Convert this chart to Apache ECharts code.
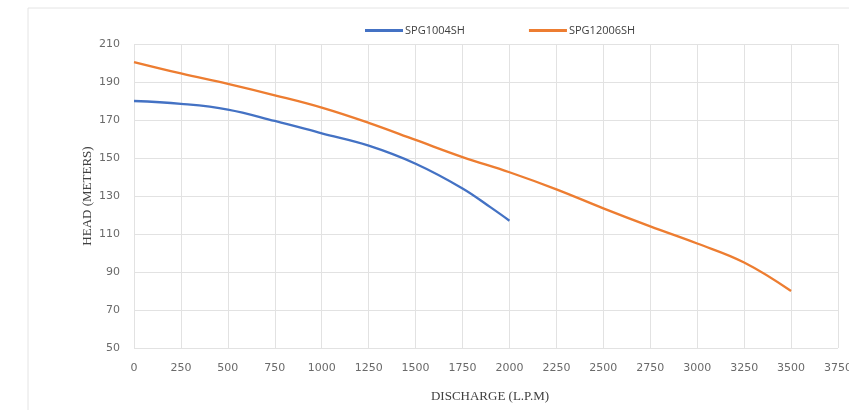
<!DOCTYPE html>
<html>
<head>
<meta charset="utf-8">
<script src="https://cdn.jsdelivr.net/npm/echarts@6/dist/echarts.min.js"></script>
<style>
  html, body { margin: 0; padding: 0; background: #fff; }
  #pumpCurve { width: 849px; height: 410px; }
</style>
</head>
<body>
<div id="pumpCurve"></div>
<script>
// discharge (L.P.M) and head (meters)
var discharge1004 = [0, 250, 500, 750, 1000, 1250, 1500, 1750, 1900, 2000];
var head1004 = [180, 178.5, 175.5, 169.5, 163, 156.5, 147, 134, 124, 117];
var discharge12006 = [0, 250, 500, 750, 1000, 1250, 1500, 1750, 2000, 2250, 2500, 2750, 3000, 3250, 3500];
var head12006 = [200.5, 194.5, 189, 183, 176.5, 168.5, 159.5, 150.5, 142.5, 133.5, 123.5, 114, 105, 95, 80];
var seriesNames = ['SPG1004SH', 'SPG12006SH'];

function pairs(xs, ys) {
    return xs.map(function (x, i) { return [x, ys[i]]; });
}

var myChart = echarts.init(document.getElementById('pumpCurve'));
myChart.setOption({
    animation: false,
    graphic: [{
        type: 'rect',
        shape: { x: 28, y: 8, width: 900, height: 500 },
        style: { fill: 'none', stroke: '#e4e4e4', lineWidth: 1 }
    }],
    legend: {
        top: 20,
        left: 360,
        itemGap: 64,
        itemWidth: 38,
        itemHeight: 3,
        icon: 'rect',
        textStyle: { color: '#404040', fontSize: 11, fontFamily: 'Open Sans', padding: [0, 0, 0, -3] },
        data: seriesNames
    },
    grid: { left: 134, right: 11, top: 44, bottom: 62, outerBoundsMode: 'none' },
    xAxis: {
        type: 'value',
        min: 0, max: 3750, interval: 250,
        name: 'DISCHARGE (L.P.M)',
        nameLocation: 'middle',
        nameGap: 42,
        nameMoveOverlap: false,
        nameTextStyle: { fontFamily: 'Liberation Serif', fontSize: 13, color: '#404040', padding: [0, 0, 0, 8] },
        axisLine: { show: false },
        axisTick: { show: false },
        axisLabel: {
            color: '#6a6a6a', fontSize: 11, margin: 15, fontFamily: 'DejaVu Sans',
            showMaxLabel: true,
            formatter: function (v) { return String(v); }
        },
        splitLine: { show: true, lineStyle: { color: '#e2e2e2' } }
    },
    yAxis: {
        type: 'value',
        min: 50, max: 210, interval: 20,
        name: 'HEAD (METERS)',
        nameLocation: 'middle',
        nameGap: 40,
        nameMoveOverlap: false,
        nameTextStyle: { fontFamily: 'Liberation Serif', fontSize: 13, color: '#404040' },
        axisLine: { show: false },
        axisTick: { show: false },
        axisLabel: { color: '#6a6a6a', fontSize: 11, margin: 14, fontFamily: 'DejaVu Sans' },
        splitLine: { show: true, lineStyle: { color: '#e2e2e2' } }
    },
    series: [
        {
            name: seriesNames[0],
            type: 'line',
            smooth: 0.4,
            showSymbol: false,
            lineStyle: { color: '#4472c4', width: 2.3 },
            itemStyle: { color: '#4472c4' },
            data: pairs(discharge1004, head1004)
        },
        {
            name: seriesNames[1],
            type: 'line',
            smooth: 0.4,
            showSymbol: false,
            lineStyle: { color: '#ed7d31', width: 2.3 },
            itemStyle: { color: '#ed7d31' },
            data: pairs(discharge12006, head12006)
        }
    ]
});
</script>
</body>
</html>
